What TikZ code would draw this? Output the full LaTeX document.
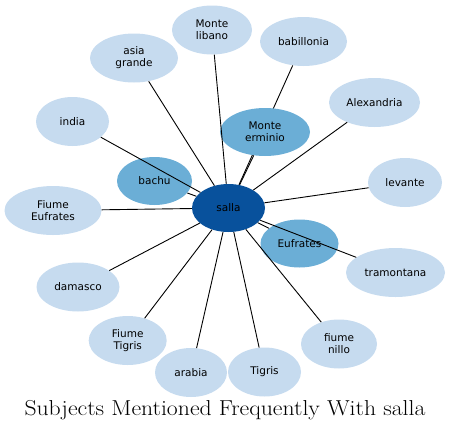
\documentclass[tikz,border=0pt]{standalone}
\usepackage{fontspec}
\newfontfamily\labelfont{DejaVu Sans}
\usepackage{xcolor}
\usepackage{tikz}
\usetikzlibrary{shapes.geometric, positioning}
\definecolor{outerblue}{HTML}{C6DBEF}
\definecolor{midblue}{HTML}{6BAED6}
\definecolor{coreblue}{HTML}{08519C}

\begin{document}
\begin{tikzpicture}[
  x=1pt, y=-1pt,
  subj/.style = {ellipse, fill=outerblue, inner sep=0pt, minimum height=49pt,
                 align=center, font={\labelfont\fontsize{10.5}{12}\selectfont}},
  near/.style = {subj, fill=midblue, minimum height=48pt},
  hub/.style  = {subj, fill=coreblue, minimum width=73pt, minimum height=48pt},
  link/.style = {line width=0.9pt}
]
  \useasboundingbox (0,0) rectangle (450,432);

  \node[subj, minimum width=80pt] (libano)     at (212,30)     {Monte\\libano};
  \node[subj, minimum width=87pt] (babillonia) at (303.5,41.5) {babillonia};
  \node[subj, minimum width=88pt] (asia)       at (134,58)     {asia\\grande};
  \node[subj, minimum width=91pt] (alexandria) at (374.5,102.5) {Alexandria};
  \node[subj, minimum width=73pt] (india)      at (72.5,121.5) {india};
  \node[subj, minimum width=74pt] (levante)    at (405,182.5)  {levante};
  \node[near, minimum width=75pt] (bachu)      at (154.5,181)  {bachu};
  \node[subj, minimum width=97pt] (fiumeeuf)   at (53,210.5)   {Fiume\\Eufrates};
  \node[hub]                      (salla)      at (228.5,208)  {salla};
  \node[near, minimum width=78pt] (eufrates)   at (299.5,243.5) {Eufrates};
  \node[subj, minimum width=99pt] (tramontana) at (395.5,272.5) {tramontana};
  \node[subj, minimum width=83pt] (damasco)    at (78,287)     {damasco};
  \node[subj, minimum width=78pt] (fiumetig)   at (127.7,340.5) {Fiume\\Tigris};
  \node[subj, minimum width=72pt] (arabia)     at (191,372.5)  {arabia};
  \node[subj, minimum width=73pt] (tigris)     at (264.5,372)  {Tigris};
  \node[subj, minimum width=76pt] (nillo)      at (339,344)    {fiume\\nillo};

  \draw[link] (salla) -- (babillonia);
  \node[near, minimum width=90pt] (erminio)    at (265,132)    {Monte\\erminio};

  \foreach \n in {libano, asia, india, fiumeeuf, damasco, fiumetig, arabia, tigris,
                  nillo, tramontana, levante, alexandria, bachu, eufrates, erminio}
    \draw[link] (salla) -- (\n);

  \node[anchor=base, font=\fontsize{21.6}{26}\selectfont] (title) at (225,415.5)
        {\scalebox{1.098}[1]{Subjects Mentioned Frequently With salla}};
\end{tikzpicture}
\end{document}
